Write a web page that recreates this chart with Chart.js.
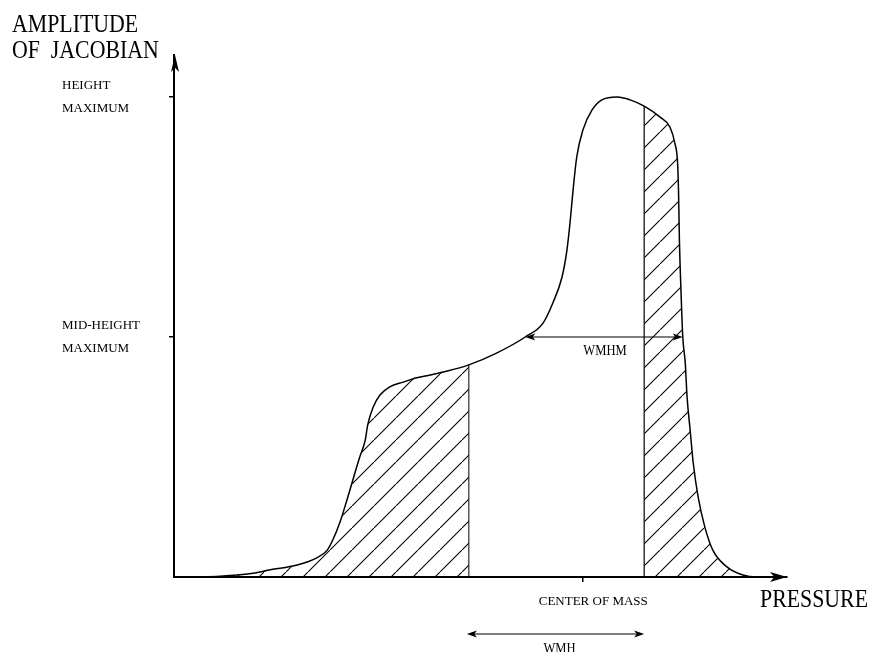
<!DOCTYPE html>
<html>
<head>
<meta charset="utf-8">
<script src="https://cdn.jsdelivr.net/npm/chart.js@4/dist/chart.umd.min.js"></script>
<style>
  html, body { margin: 0; padding: 0; background: #fff; }
  #wrap { width: 871px; height: 652px; position: relative; }
</style>
</head>
<body>
<div id="wrap"><canvas id="c" width="871" height="652"></canvas></div>
<script>
// ---- data (arbitrary units) ----
const pressure = [0, 4.2, 10.3, 12.9, 15.7, 20.1, 23.3, 25.0, 25.9, 27.1, 28.2, 30.3, 31.2, 31.6, 32.5, 33.6, 35.2, 37.4, 39.6, 41.8, 43.9, 48.1, 52.7, 57.3, 60.2, 61.8, 63.3, 64.1, 64.6, 65.1, 65.7, 66.7, 68.2, 69.8, 72.3, 74.4, 76.7, 79.3, 80.9, 81.7, 82.15, 82.3, 82.45, 82.7, 83.0, 83.4, 83.7, 84.2, 84.7, 85.5, 86.6, 87.9, 90.2, 92.8, 95.1, 100];
const amplitude = [0, 0, 0.4, 0.8, 1.5, 2.5, 4.0, 5.6, 7.7, 11.5, 16.0, 25.0, 28.5, 31.7, 35.4, 37.9, 39.6, 40.6, 41.5, 42.1, 42.7, 44.2, 46.7, 50.0, 52.9, 57.1, 62.5, 68.1, 73.75, 80.6, 87.5, 93.1, 97.3, 99.4, 100, 99.4, 98.1, 95.8, 93.75, 90.4, 86.25, 80.6, 70.2, 59.8, 50.0, 44.6, 37.5, 30.6, 23.8, 16.7, 10.4, 5.6, 2.1, 0.4, 0, 0];
const leftHatchEnd = 48.1;      // left vertical line
const rightHatchStart = 76.7;   // right vertical line
const yTickValues = [50, 100];
const yTickLabels = [["MID-HEIGHT", "MAXIMUM"], ["HEIGHT", "MAXIMUM"]];
const xTickValues = [66.6];
const xTickLabels = ["CENTER OF MASS"];
const wmhmRange = [57.3, 83.0];  // at mid-height
const wmhmLevel = 50;
const wmhRange = [48.1, 76.7];
const yAxisTitle = ["AMPLITUDE", "OF  JACOBIAN"];
const xAxisTitle = "PRESSURE";

// ---- derived ----
const curve = pressure.map((x, i) => ({ x: x, y: amplitude[i] }));
const leftHatch = curve.filter(p => p.x <= leftHatchEnd);
const rightHatch = curve.filter(p => p.x >= rightHatchStart);
const ampAt = x => amplitude[pressure.indexOf(x)];

// hatch pattern
const pc = document.createElement('canvas');
pc.width = 22; pc.height = 22;
const pctx = pc.getContext('2d');
pctx.strokeStyle = '#000';
pctx.lineWidth = 1.1;
pctx.beginPath();
pctx.moveTo(-2, 24); pctx.lineTo(24, -2);
pctx.stroke();
const hatch = pctx.createPattern(pc, 'repeat');

const FONT = "'Liberation Serif', 'Times New Roman', serif";
Chart.defaults.font.family = FONT;
Chart.defaults.color = '#000';

function arrowHead(ctx, tx, ty, dx, dy, len, half) {
  const bx = tx - dx * len, by = ty - dy * len;
  const nx = -dy, ny = dx;
  ctx.beginPath();
  ctx.moveTo(tx, ty);
  ctx.lineTo(bx + nx * half, by + ny * half);
  ctx.lineTo(tx - dx * len * 0.75, ty - dy * len * 0.75);
  ctx.lineTo(bx - nx * half, by - ny * half);
  ctx.closePath();
  ctx.fill();
}
function scaledText(ctx, text, x, y, size, sx, align) {
  ctx.save();
  ctx.font = size + 'px ' + FONT;
  ctx.textBaseline = 'alphabetic';
  ctx.textAlign = align || 'left';
  ctx.translate(x, y);
  ctx.scale(sx, 1);
  ctx.fillText(text, 0, 0);
  ctx.restore();
}

const annotations = {
  id: 'annotations',
  afterDraw(chart) {
    const ctx = chart.ctx;
    const xs = chart.scales.x, ys = chart.scales.y;
    const a = chart.chartArea;
    ctx.save();
    ctx.fillStyle = '#000';
    ctx.strokeStyle = '#000';
    // axis arrowheads
    arrowHead(ctx, a.right, a.bottom, 1, 0, 17, 5);
    arrowHead(ctx, a.left + 1, a.top, 0, -1, 17, 4);
    // WMHM double arrow
    const y1 = ys.getPixelForValue(wmhmLevel);
    const xa = xs.getPixelForValue(wmhmRange[0]), xb = xs.getPixelForValue(wmhmRange[1]);
    ctx.lineWidth = 1.2;
    ctx.beginPath(); ctx.moveTo(xa + 4, y1); ctx.lineTo(xb - 4, y1); ctx.stroke();
    arrowHead(ctx, xa, y1, -1, 0, 10, 3.5);
    arrowHead(ctx, xb, y1, 1, 0, 10, 3.5);
    scaledText(ctx, 'WMHM', (xa + xb) / 2 + 1, y1 + 18, 14, 0.9, 'center');
    // WMH double arrow below axis
    const y2 = a.bottom + 57;
    const xc = xs.getPixelForValue(wmhRange[0]) - 2, xd = xs.getPixelForValue(wmhRange[1]);
    ctx.beginPath(); ctx.moveTo(xc + 4, y2); ctx.lineTo(xd - 4, y2); ctx.stroke();
    arrowHead(ctx, xc, y2, -1, 0, 10, 3.5);
    arrowHead(ctx, xd, y2, 1, 0, 10, 3.5);
    scaledText(ctx, 'WMH', (xc + xd) / 2 + 4, y2 + 19, 14, 0.9, 'center');
    // axis titles
    scaledText(ctx, yAxisTitle[0], 12, 32, 26, 0.84, 'left');
    scaledText(ctx, yAxisTitle[1], 12, 58, 26, 0.84, 'left');
    scaledText(ctx, xAxisTitle, 760, 607, 26, 0.84, 'left');
    ctx.restore();
  }
};

new Chart(document.getElementById('c'), {
  type: 'line',
  data: {
    datasets: [
      { data: curve, borderColor: '#000', borderWidth: 1.5, pointRadius: 0, fill: false,
        cubicInterpolationMode: 'monotone', clip: false },
      { data: leftHatch, borderWidth: 0, borderColor: 'rgba(0,0,0,0)', pointRadius: 0,
        fill: 'origin', backgroundColor: hatch, cubicInterpolationMode: 'monotone' },
      { data: rightHatch, borderWidth: 0, borderColor: 'rgba(0,0,0,0)', pointRadius: 0,
        fill: 'origin', backgroundColor: hatch, cubicInterpolationMode: 'monotone' },
      { data: [{ x: leftHatchEnd, y: 0 }, { x: leftHatchEnd, y: ampAt(leftHatchEnd) }],
        borderColor: '#000', borderWidth: 1, pointRadius: 0, tension: 0, fill: false },
      { data: [{ x: rightHatchStart, y: 0 }, { x: rightHatchStart, y: ampAt(rightHatchStart) }],
        borderColor: '#000', borderWidth: 1.2, pointRadius: 0, tension: 0, fill: false }
    ]
  },
  options: {
    responsive: false,
    animation: false,
    events: [],
    layout: { padding: { left: 62, right: 84, top: 55, bottom: 35 } },
    plugins: { legend: { display: false }, tooltip: { enabled: false }, title: { display: false } },
    scales: {
      x: {
        type: 'linear', min: 0, max: 100,
        afterBuildTicks: s => { s.ticks = xTickValues.map(v => ({ value: v })); },
        afterFit: s => { s.height = 40; },
        ticks: {
          callback: v => xTickLabels[xTickValues.indexOf(v)],
          font: { size: 13 }, color: '#000', padding: 12, labelOffset: 11,
          maxRotation: 0, autoSkip: false
        },
        grid: { display: true, drawOnChartArea: false, drawTicks: true, tickLength: 5, color: '#000', lineWidth: 1.5 },
        border: { display: true, color: '#000', width: 2 }
      },
      y: {
        type: 'linear', min: 0, max: 108.75,
        afterBuildTicks: s => { s.ticks = yTickValues.map(v => ({ value: v })); },
        afterFit: s => { s.width = 112; },
        ticks: {
          callback: v => yTickLabels[yTickValues.indexOf(v)],
          font: { size: 13, lineHeight: 1.77 }, color: '#000', crossAlign: 'far', padding: 8,
          autoSkip: false
        },
        grid: { display: true, drawOnChartArea: false, drawTicks: true, tickLength: 5, color: '#000', lineWidth: 1.5 },
        border: { display: true, color: '#000', width: 2 }
      }
    }
  },
  plugins: [annotations]
});
</script>
</body>
</html>
